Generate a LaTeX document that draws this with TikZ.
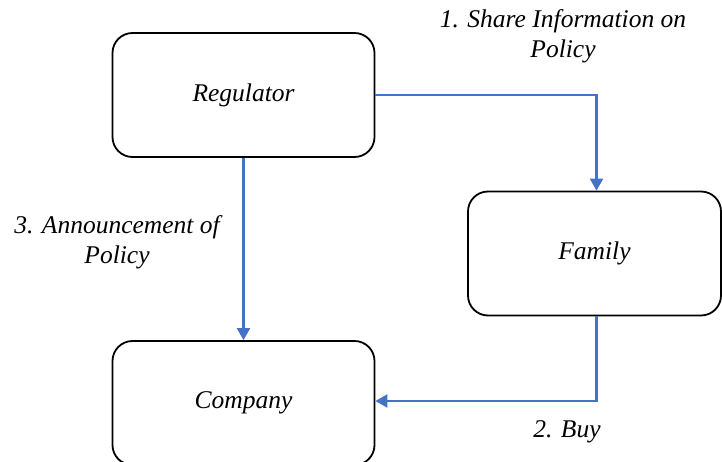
\documentclass[tikz,border=0pt]{standalone}
\usepackage{fontspec}
\setmainfont{LiberationSerif}[Extension=.ttf,UprightFont=*-Regular,ItalicFont=*-Italic,BoldFont=*-Bold,BoldItalicFont=*-BoldItalic]
\usetikzlibrary{arrows.meta}
\definecolor{linkblue}{HTML}{4472C4}
\begin{document}
\begin{tikzpicture}[x=1pt,y=-1pt,
  box/.style={draw=black,line width=1.8pt,rounded corners=20pt,minimum width=262pt,minimum height=124pt,inner sep=0pt,font=\fontsize{25.5}{30}\selectfont\itshape},
  lab/.style={align=center,inner sep=0pt,font=\fontsize{25.5}{30}\selectfont\itshape},
  link/.style={draw=linkblue,line width=2.2pt,-{Triangle[length=12pt,width=13pt]}}]
\useasboundingbox (0,0) rectangle (722,462);
\clip (0,0) rectangle (722,462);
\node[box] (reg) at (243.5,95) {Regulator};
\node[box,minimum width=253pt] (fam) at (594.5,253.5) {Family};
\node[box] (comp) at (243.5,403) {Company};
\draw[link] (reg.east) -| ([xshift=2pt]fam.north);
\draw[link] (reg.south) -- (comp.north);
\draw[link] ([xshift=2pt]fam.south) |- ([yshift=2pt]comp.east);
\node[lab] (l1) at (563,36.5) {1. Share Information on\\Policy};
\node[lab] (l3) at (117,242) {3. Announcement of\\Policy};
\node[lab,anchor=base] (l2) at (567,437) {2. Buy};
\end{tikzpicture}
\end{document}
